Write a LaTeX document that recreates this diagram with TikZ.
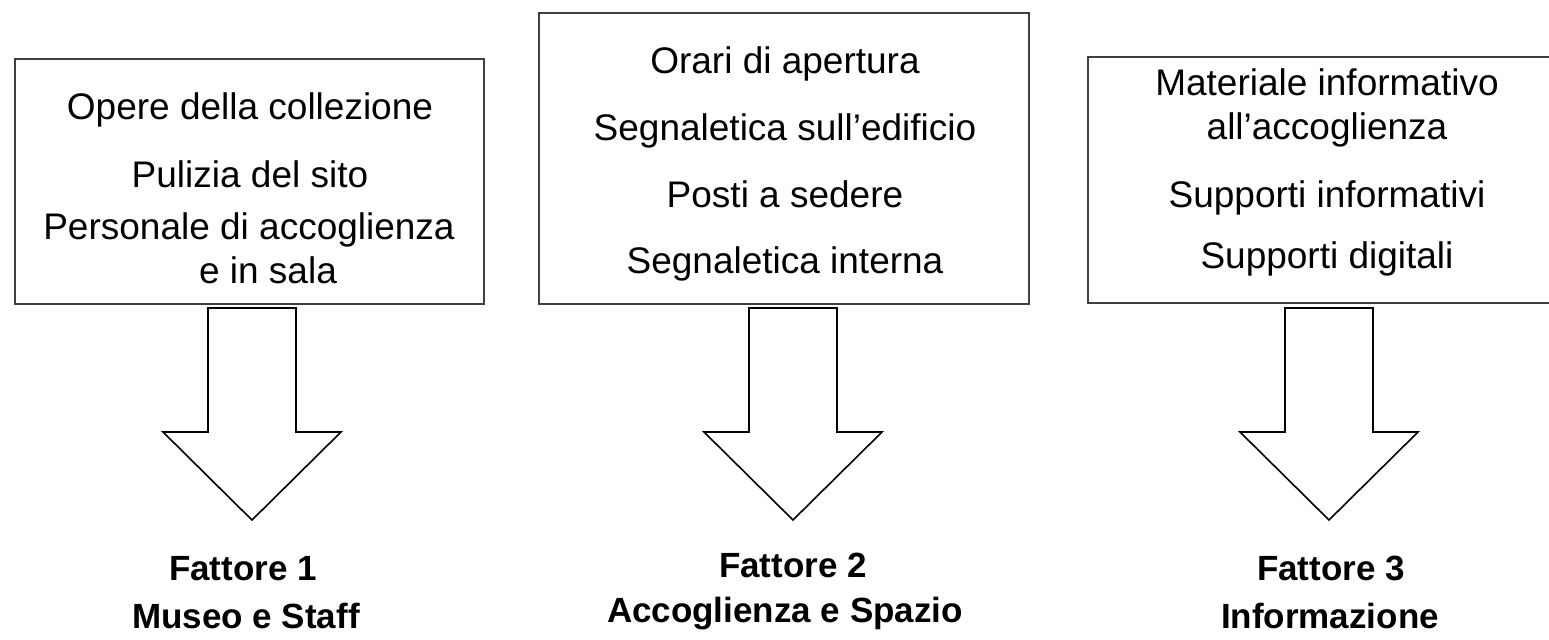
\documentclass[tikz,border=0pt]{standalone}
\usepackage{fontspec}
\setmainfont{Liberation Sans}
\usetikzlibrary{positioning}
\tikzset{main box/.style={rectangle,draw=black!75,line width=0.7pt,fill=none,inner sep=0pt},
         box text/.style={rectangle,draw=none,fill=none,inner sep=0pt,anchor=base,font=\fontsize{18.5}{22}\selectfont},
         factor label/.style={rectangle,draw=none,fill=none,inner sep=0pt,anchor=base,font=\fontsize{17.5}{21}\selectfont\bfseries},
         block arrow/.style={draw=black,line width=0.8pt,line join=miter,fill=white},
}

\begin{document}
\begin{tikzpicture}[x=0.5pt,y=-0.5pt]
\useasboundingbox (0,0) rectangle (1549,639);
\clip (0,0) rectangle (1549,639);
% boxes
\node [main box, minimum width=234.5pt, minimum height=122.5pt] (b1) at (249.5,181.5) {};
\node [main box, minimum width=245pt, minimum height=145.5pt] (b2) at (784,158.5) {};
\node [main box, minimum width=239pt, minimum height=123pt] (b3) at (1327,180) {};
% first box
\node [box text] (11) at (250,119) {Opere della collezione};
\node [box text] (12) at (250,187) {Pulizia del sito};
\node [box text] (13) at (249,239) {Personale di accoglienza};
\node [box text] (14) at (268,283) {e in sala};
% second box
\node [box text] (21) at (785,73) {Orari di apertura};
\node [box text] (22) at (785,140) {Segnaletica sull’edificio};
\node [box text] (23) at (785,207) {Posti a sedere};
\node [box text] (24) at (785,273) {Segnaletica interna};
% third box
\node [box text] (31) at (1327,95) {Materiale informativo};
\node [box text] (32) at (1327,139) {all’accoglienza};
\node [box text] (33) at (1327,207) {Supporti informativi};
\node [box text] (34) at (1327,268) {Supporti digitali};
% arrows
\foreach \cx in {252,793,1329}
    \draw [block arrow] (\cx-44,308) -- (\cx-44,432) -- (\cx-89,432) -- (\cx,520)
        -- (\cx+89,432) -- (\cx+44,432) -- (\cx+44,308) -- cycle;
% factors
\node [factor label] (f1) at (243,580) {Fattore 1};
\node [factor label] (m1) at (246,628) {Museo e Staff};
\node [factor label] (f2) at (793,577) {Fattore 2};
\node [factor label] (m2) at (785,622) {Accoglienza e Spazio};
\node [factor label] (f3) at (1331,580) {Fattore 3};
\node [factor label] (m3) at (1330,628) {Informazione};
\end{tikzpicture}
\end{document}
